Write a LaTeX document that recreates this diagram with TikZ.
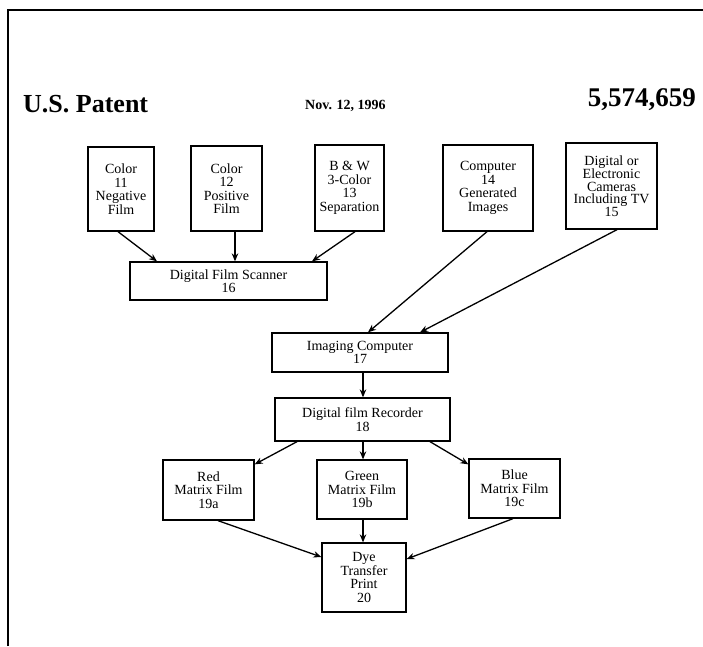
\documentclass[tikz,border=0pt]{standalone}
\usepackage{fontspec}
\setmainfont{Liberation Serif}
\usetikzlibrary{arrows.meta}
\begin{document}
\begin{tikzpicture}[x=1pt,y=-1pt,
  box/.style={draw, line width=1.3pt, align=center, inner sep=1pt,
    font=\fontsize{14}{13.5}\selectfont},
  arr/.style={line width=1.3pt, -{Stealth[length=8pt,width=6.5pt]}},
  frame/.style={line width=1.1pt}]
\useasboundingbox (0,0) rectangle (703,646);
\fill[white] (0,0) rectangle (703,646);
% frame
\draw[frame] (8,646) -- (8,10) -- (703,10);
% header
\node[anchor=base west, inner sep=0, font=\bfseries\fontsize{26}{26}\selectfont] (hdr) at (23,112) {U.S. Patent};
\node[anchor=base west, inner sep=0, font=\bfseries\fontsize{14}{14}\selectfont] (date) at (305,109) {Nov. 12, 1996};
\node[anchor=base east, inner sep=0, font=\bfseries\fontsize{27}{27}\selectfont] (num) at (696,106) {5,574,659};
% sources
\node[box, minimum width=66pt, minimum height=84pt] (n11) at (121,189) {Color\\11\\Negative\\Film};
\node[box, minimum width=71pt, minimum height=85pt] (n12) at (226.5,188.5) {Color\\12\\Positive\\Film};
\node[box, minimum width=69pt, minimum height=86pt] (n13) at (349.5,188) {B \& W\\3-Color\\13\\Separation};
\node[box, minimum width=90pt, minimum height=86pt] (n14) at (488,188) {Computer\\14\\Generated\\Images};
\node[box, minimum width=91pt, minimum height=86pt, font=\fontsize{14}{12.5}\selectfont] (n15) at (611.5,186) {Digital or\\Electronic\\Cameras\\Including TV\\15};
% processing
\node[box, minimum width=197pt, minimum height=38pt] (n16) at (228.5,281) {Digital Film Scanner\\16};
\node[box, minimum width=176pt, minimum height=39pt] (n17) at (360,352.5) {Imaging Computer\\17};
\node[box, minimum width=175pt, minimum height=43pt] (n18) at (362.5,419.5) {Digital film Recorder\\18};
\node[box, minimum width=91pt, minimum height=60pt] (n19a) at (208.5,490) {Red\\Matrix Film\\19a};
\node[box, minimum width=90pt, minimum height=59pt] (n19b) at (362,489.5) {Green\\Matrix Film\\19b};
\node[box, minimum width=91pt, minimum height=59pt] (n19c) at (514.5,488.5) {Blue\\Matrix Film\\19c};
\node[box, minimum width=84pt, minimum height=69pt] (n20) at (364,577.5) {Dye\\Transfer\\Print\\20};
% connectors
\draw[arr] ([xshift=-3pt]n11.south) -- ([xshift=-71.5pt]n16.north);
\draw[arr] ([xshift=8.5pt]n12.south) -- ([xshift=6.5pt]n16.north);
\draw[arr] ([xshift=5.5pt]n13.south) -- ([xshift=83.5pt]n16.north);
\draw[arr] ([xshift=-1pt]n14.south) -- ([xshift=8pt]n17.north);
\draw[arr] ([xshift=5.5pt]n15.south) -- ([xshift=60pt]n17.north);
\draw[arr] ([xshift=3pt]n17.south) -- ([xshift=0.5pt]n18.north);
\draw[arr] ([xshift=-65.5pt]n18.south) -- ([yshift=-5pt]n19a.north east);
\draw[arr] ([xshift=0.5pt]n18.south) -- ([xshift=1pt]n19b.north);
\draw[arr] ([xshift=67.5pt]n18.south) -- ([yshift=-6pt]n19c.north west);
\draw[arr] ([xshift=9.5pt]n19a.south) -- ([yshift=20.5pt]n20.west);
\draw[arr] ([xshift=1pt]n19b.south) -- ([xshift=-1pt]n20.north);
\draw[arr] ([xshift=-1.5pt]n19c.south) -- ([yshift=18.5pt]n20.east);
\end{tikzpicture}
\end{document}
